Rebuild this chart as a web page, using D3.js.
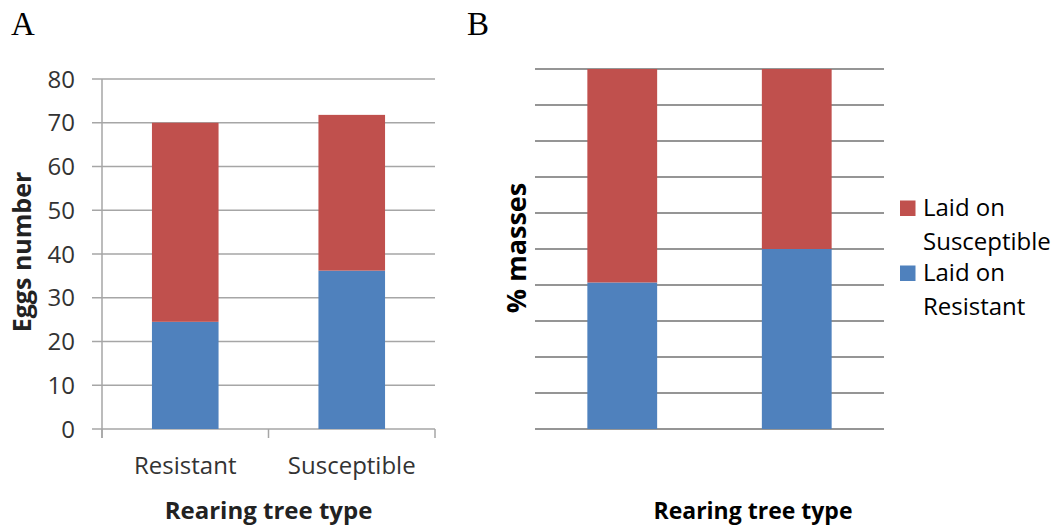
<!DOCTYPE html>
<html>
<head>
<meta charset="utf-8">
<script src="https://cdn.jsdelivr.net/npm/d3@7"></script>
<style>
  html, body { margin: 0; padding: 0; background: #fff; }
  svg { display: block; }
  text { font-family: "Open Sans", "Liberation Sans", sans-serif; fill: #222; }
</style>
</head>
<body>
<svg id="chart" width="1055" height="527"></svg>
<script>
// Rearing tree type categories
const categories = ["Resistant", "Susceptible"];

// Panel A: number of eggs laid on each host type
const eggsLaidOnResistant = [24.5, 36.2];
const eggsLaidOnSusceptible = [45.5, 35.6];
const eggTicks = [0, 10, 20, 30, 40, 50, 60, 70, 80];

// Panel B: percentage of egg masses laid on each host type
const pctLaidOnResistant = [40.7, 50];
const pctLaidOnSusceptible = [59.3, 50];
const pctTicks = [0, 10, 20, 30, 40, 50, 60, 70, 80, 90, 100];

const seriesNames = ["Laid on Resistant", "Laid on Susceptible"];
const colors = { "Laid on Resistant": "#4F81BD", "Laid on Susceptible": "#C0504D" };

const svg = d3.select("#chart");

function stackRows(res, sus) {
  const rows = categories.map((c, i) => ({
    cat: c,
    "Laid on Resistant": res[i],
    "Laid on Susceptible": sus[i]
  }));
  return d3.stack().keys(seriesNames)(rows);
}

// ---------- Panel A ----------
(function () {
  const left = 102, right = 435, top = 79, bottom = 429;
  const x = d3.scaleBand().domain(categories).range([left, right]);
  const y = d3.scaleLinear().domain([0, 80]).range([bottom, top]);
  const g = svg.append("g");

  // horizontal gridlines with short outside ticks
  g.selectAll("line.grid").data(eggTicks).join("line")
    .attr("x1", left - 10).attr("x2", right)
    .attr("y1", d => y(d)).attr("y2", d => y(d))
    .attr("stroke", "#a6a6a6").attr("stroke-width", 1.5);

  // vertical value axis
  g.append("line").attr("x1", left).attr("x2", left)
    .attr("y1", top).attr("y2", bottom + 9)
    .attr("stroke", "#a6a6a6").attr("stroke-width", 1.5);

  // category tick marks on the x axis
  const edges = [left, ...categories.slice(1).map(c => x(c)), right];
  g.selectAll("line.xt").data(edges).join("line")
    .attr("x1", d => d).attr("x2", d => d)
    .attr("y1", bottom).attr("y2", bottom + 9)
    .attr("stroke", "#a6a6a6").attr("stroke-width", 1.5);

  // bars
  const bw = x.bandwidth() * 0.4;
  stackRows(eggsLaidOnResistant, eggsLaidOnSusceptible).forEach(layer => {
    g.selectAll(null).data(layer).join("rect")
      .attr("x", d => x(d.data.cat) + (x.bandwidth() - bw) / 2)
      .attr("width", bw)
      .attr("y", d => y(d[1]))
      .attr("height", d => y(d[0]) - y(d[1]))
      .attr("fill", colors[layer.key]);
  });

  // tick labels
  g.selectAll("text.yl").data(eggTicks).join("text")
    .attr("x", left - 27).attr("y", d => y(d)).attr("dy", "0.36em")
    .attr("text-anchor", "end").style("font-size", "24px").style("fill", "#333")
    .text(d => d);

  g.selectAll("text.xl").data(categories).join("text")
    .attr("x", d => x(d) + x.bandwidth() / 2).attr("y", 474)
    .attr("text-anchor", "middle").style("font-size", "24px").style("fill", "#333")
    .text(d => d);

  // axis titles
  g.append("text").attr("transform", `translate(31,${(top + bottom) / 2 - 2}) rotate(-90)`)
    .attr("text-anchor", "middle").style("font-size", "25px").style("font-weight", "bold")
    .text("Eggs number");
  g.append("text").attr("x", (left + right) / 2).attr("y", 519)
    .attr("text-anchor", "middle").style("font-size", "24px").style("font-weight", "bold")
    .text("Rearing tree type");

  // panel letter
  svg.append("text").attr("x", 11).attr("y", 35)
    .style("font-family", "'Liberation Serif', 'Times New Roman', serif")
    .style("font-size", "33px").style("fill", "#000").text("A");
})();

// ---------- Panel B ----------
(function () {
  const left = 535, right = 884, top = 69, bottom = 429;
  const x = d3.scaleBand().domain(categories).range([left, right]);
  const y = d3.scaleLinear().domain([0, 100]).range([bottom, top]);
  const g = svg.append("g");

  g.selectAll("line.grid").data(pctTicks).join("line")
    .attr("x1", left).attr("x2", right)
    .attr("y1", d => y(d)).attr("y2", d => y(d))
    .attr("stroke", "#959595").attr("stroke-width", 2);

  const bw = x.bandwidth() * 0.4;
  stackRows(pctLaidOnResistant, pctLaidOnSusceptible).forEach(layer => {
    g.selectAll(null).data(layer).join("rect")
      .attr("x", d => x(d.data.cat) + (x.bandwidth() - bw) / 2)
      .attr("width", bw)
      .attr("y", d => y(d[1]))
      .attr("height", d => y(d[0]) - y(d[1]))
      .attr("fill", colors[layer.key]);
  });

  g.append("text").attr("transform", `translate(526,248) rotate(-90)`)
    .attr("text-anchor", "middle").style("font-size", "27px").style("font-weight", "bold")
    .style("fill", "#000").text("% masses");
  g.append("text").attr("x", 753).attr("y", 519)
    .attr("text-anchor", "middle").style("font-size", "23px").style("font-weight", "bold")
    .style("fill", "#000").text("Rearing tree type");

  // legend
  const legendItems = [
    { key: "Laid on Susceptible", lines: ["Laid on", "Susceptible"] },
    { key: "Laid on Resistant", lines: ["Laid on", "Resistant"] }
  ];
  const lg = g.append("g");
  legendItems.forEach((item, i) => {
    const baseY = 216 + i * 65;
    lg.append("rect").attr("x", 900).attr("y", baseY - 15.5)
      .attr("width", 15.5).attr("height", 15.5).attr("fill", colors[item.key]);
    item.lines.forEach((t, j) => {
      lg.append("text").attr("x", 923).attr("y", baseY + j * 34)
        .style("font-size", "24px").style("fill", "#000").text(t);
    });
  });

  svg.append("text").attr("x", 467).attr("y", 35)
    .style("font-family", "'Liberation Serif', 'Times New Roman', serif")
    .style("font-size", "33px").style("fill", "#000").text("B");
})();
</script>
</body>
</html>
